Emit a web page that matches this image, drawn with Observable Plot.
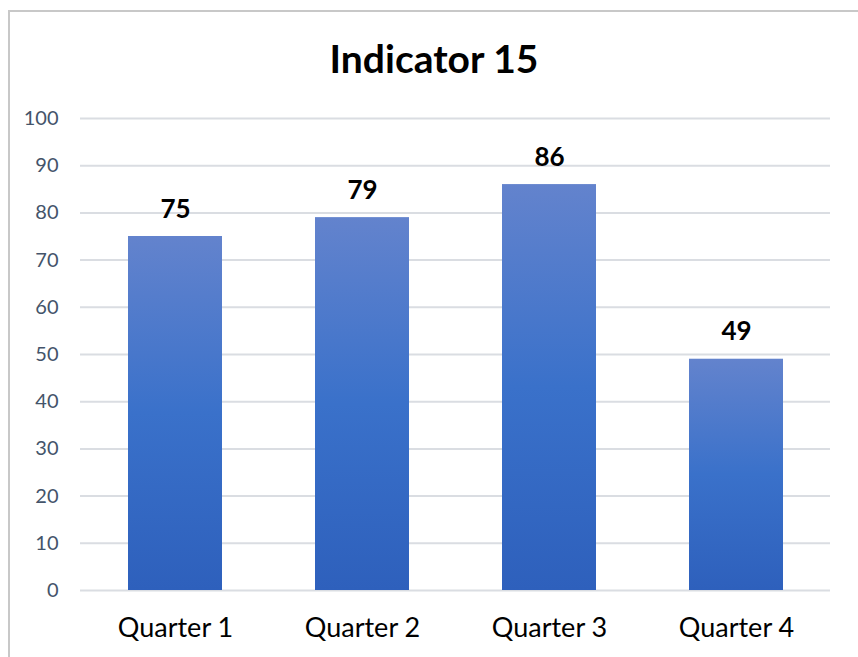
<!DOCTYPE html>
<html>
<head>
<meta charset="utf-8">
<script src="https://cdn.jsdelivr.net/npm/d3@7"></script>
<script src="https://cdn.jsdelivr.net/npm/@observablehq/plot@0.6"></script>
<style>
  html, body { margin: 0; padding: 0; background: #fff; overflow: hidden; }
  #wrap { position: relative; width: 858px; height: 657px; overflow: hidden; }
  #frame { position: absolute; left: 8px; top: 10px; width: 900px; height: 700px;
           border-left: 2px solid #c8c8c8; border-top: 2px solid #c8c8c8; }
  #title { position: absolute; left: 0; top: 33px; width: 868px; text-align: center;
           font-family: Lato, sans-serif; font-weight: bold; font-size: 39px; color: #000; line-height: 50px; }
  #chart { position: absolute; left: 0; top: 90px; }
</style>
</head>
<body>
<div id="wrap">
  <div id="frame"></div>
  <div id="title">Indicator 15</div>
  <div id="chart"></div>
</div>
<script>
const quarters = ["Quarter 1", "Quarter 2", "Quarter 3", "Quarter 4"];
const values = [75, 79, 86, 49];
const yTicks = [0, 10, 20, 30, 40, 50, 60, 70, 80, 90, 100];

const data = quarters.map((q, i) => ({quarter: q, value: values[i]}));

const plot = Plot.plot({
  width: 858,
  height: 567,
  marginLeft: 80,
  marginRight: 28,
  marginTop: 28,
  marginBottom: 67,
  style: {fontFamily: "Lato, sans-serif", background: "transparent"},
  x: {domain: quarters, paddingInner: 0.5, paddingOuter: 0.25, label: null},
  y: {domain: [0, 100], label: null},
  marks: [
    Plot.gridY(yTicks, {stroke: "#dadde2", strokeOpacity: 1, strokeWidth: 2}),
    Plot.barY(data, {x: "quarter", y: "value", fill: "url(#barGrad)"}),
    Plot.text(data, {x: "quarter", y: "value", text: d => String(d.value), dy: -19, lineAnchor: "bottom",
      fontSize: 26, fontWeight: "bold", fill: "#000"}),
    Plot.axisY(yTicks, {tickSize: 0, tickPadding: 22, fontSize: 20, fill: "#44546a", label: null}),
    Plot.axisX({tickSize: 0, tickPadding: 27, fontSize: 27, fill: "#000", label: null})
  ]
});

const svg = d3.select(plot);
const defs = svg.insert("defs", ":first-child");
const g = defs.append("linearGradient").attr("id", "barGrad")
  .attr("x1", 0).attr("y1", 0).attr("x2", 0).attr("y2", 1);
g.append("stop").attr("offset", "0%").attr("stop-color", "#6383cd");
g.append("stop").attr("offset", "50%").attr("stop-color", "#3a71ca");
g.append("stop").attr("offset", "100%").attr("stop-color", "#2e60bc");

document.getElementById("chart").appendChild(plot);
</script>
</body>
</html>
